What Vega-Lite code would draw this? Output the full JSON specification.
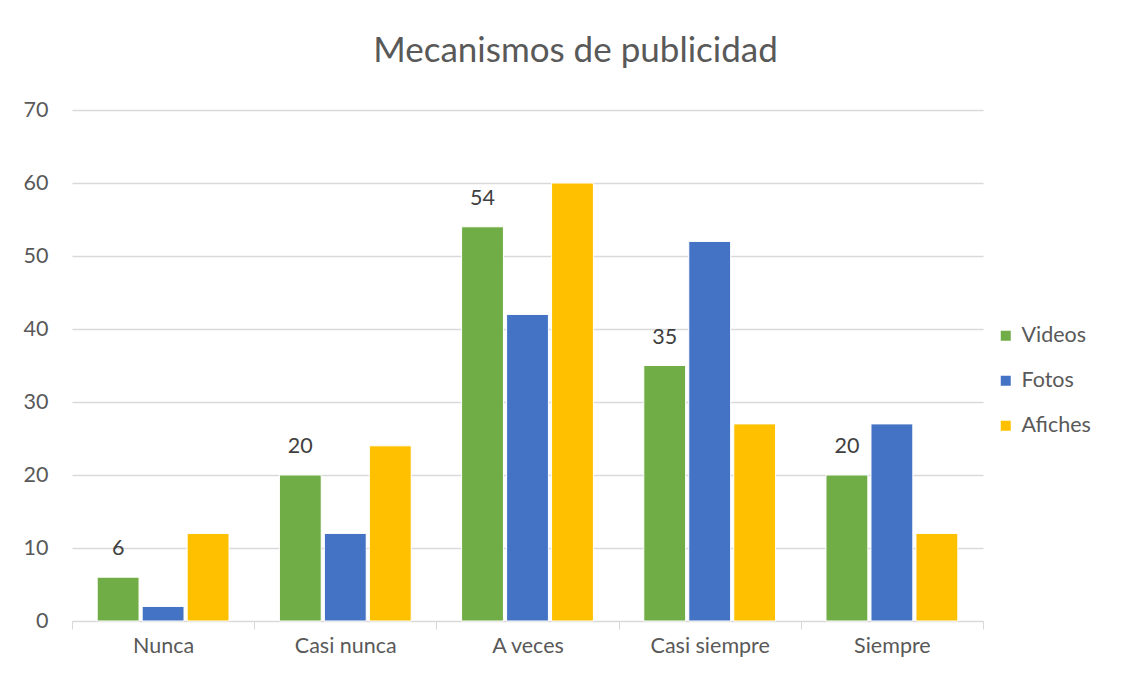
{
  "$schema": "https://vega.github.io/schema/vega-lite/v6.json",
  "autosize": "none",
  "width": 911,
  "height": 511,
  "padding": {"left": 72, "top": 110, "right": 147, "bottom": 56},
  "background": "white",
  "title": {
    "text": "Mecanismos de publicidad",
    "fontSize": 35,
    "font": "Lato",
    "fontWeight": "normal",
    "color": "#595959",
    "anchor": "middle",
    "frame": "group",
    "dx": 48,
    "offset": 30
  },
  "data": {
    "values": [
      {"cat": "Nunca", "serie": "Videos", "valor": 6},
      {"cat": "Nunca", "serie": "Fotos", "valor": 2},
      {"cat": "Nunca", "serie": "Afiches", "valor": 12},
      {"cat": "Casi nunca", "serie": "Videos", "valor": 20},
      {"cat": "Casi nunca", "serie": "Fotos", "valor": 12},
      {"cat": "Casi nunca", "serie": "Afiches", "valor": 24},
      {"cat": "A veces", "serie": "Videos", "valor": 54},
      {"cat": "A veces", "serie": "Fotos", "valor": 42},
      {"cat": "A veces", "serie": "Afiches", "valor": 60},
      {"cat": "Casi siempre", "serie": "Videos", "valor": 35},
      {"cat": "Casi siempre", "serie": "Fotos", "valor": 52},
      {"cat": "Casi siempre", "serie": "Afiches", "valor": 27},
      {"cat": "Siempre", "serie": "Videos", "valor": 20},
      {"cat": "Siempre", "serie": "Fotos", "valor": 27},
      {"cat": "Siempre", "serie": "Afiches", "valor": 12}
    ]
  },
  "encoding": {
    "x": {
      "field": "cat",
      "type": "nominal",
      "sort": ["Nunca", "Casi nunca", "A veces", "Casi siempre", "Siempre"],
      "scale": {"paddingInner": 0, "paddingOuter": 0},
      "axis": {
        "title": null,
        "labelAngle": 0,
        "labelFont": "Lato",
        "labelFontSize": 21.5,
        "labelColor": "#595959",
        "labelPadding": 6,
        "tickBand": "extent",
        "tickColor": "#d9d9d9",
        "tickSize": 8,
        "domainColor": "#d9d9d9",
        "domainWidth": 1,
        "grid": false
      }
    },
    "xOffset": {
      "field": "serie",
      "type": "nominal",
      "sort": ["Videos", "Fotos", "Afiches"],
      "scale": {"paddingInner": 0.07, "paddingOuter": 0.56}
    },
    "y": {
      "field": "valor",
      "type": "quantitative",
      "scale": {"domain": [0, 70]},
      "axis": {
        "title": null,
        "values": [0, 10, 20, 30, 40, 50, 60, 70],
        "labelFont": "Lato",
        "labelFontSize": 21.5,
        "labelColor": "#595959",
        "labelPadding": 24,
        "ticks": false,
        "domain": false,
        "gridColor": "#d9d9d9",
        "gridWidth": 1.3
      }
    }
  },
  "layer": [
    {
      "mark": {"type": "bar", "stroke": "white", "strokeWidth": 1},
      "encoding": {
        "color": {
          "field": "serie",
          "type": "nominal",
          "scale": {"domain": ["Videos", "Fotos", "Afiches"], "range": ["#70AD47", "#4472C4", "#FFC000"]},
          "legend": {
            "title": null,
            "orient": "none",
            "legendX": 923,
            "legendY": 215,
            "symbolType": "square",
            "symbolSize": 100,
            "symbolStrokeWidth": 0,
            "labelFont": "Lato",
            "labelFontSize": 21.5,
            "labelColor": "#595959",
            "labelOffset": 5,
            "rowPadding": 22
          }
        }
      }
    },
    {
      "transform": [{"filter": "datum.serie === 'Videos'"}],
      "mark": {"type": "text", "dy": -28, "font": "Lato", "fontSize": 21.5, "color": "#404040"},
      "encoding": {
        "text": {"field": "valor", "type": "quantitative"}
      }
    }
  ],
  "config": {"view": {"stroke": null}}
}
